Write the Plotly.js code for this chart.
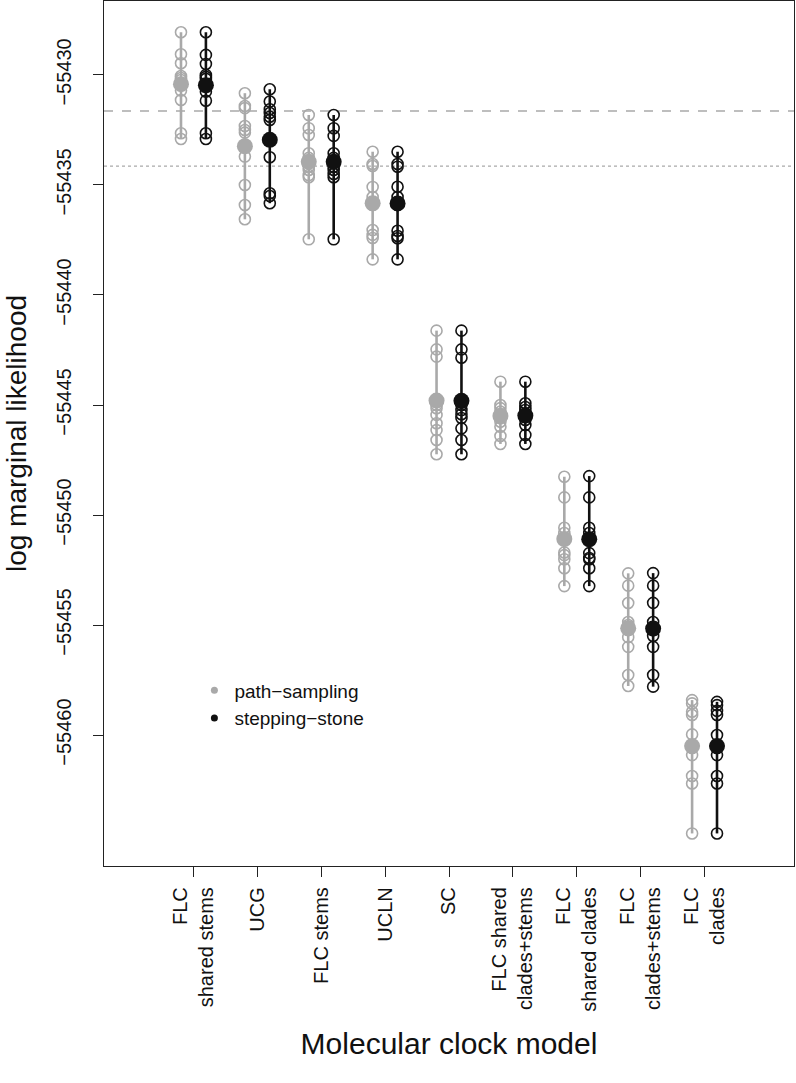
<!DOCTYPE html>
<html>
<head>
<meta charset="utf-8">
<script src="https://cdn.plot.ly/plotly-3.0.1.min.js"></script>
<style>html,body{margin:0;padding:0;background:#fff;}#chart{width:796px;height:1083px;}</style>
</head>
<body>
<div id="chart"></div>
<script>
// ---- data ----
const categories = ["FLC<br>shared stems", "UCG", "FLC stems", "UCLN", "SC",
  "FLC shared<br>clades+stems", "FLC<br>shared clades", "FLC<br>clades+stems", "FLC<br>clades"];

// path-sampling replicate estimates per model
const psReps = [
  [-55428.06, -55429.06, -55429.47, -55430.05, -55430.14, -55430.23, -55430.71, -55431.14, -55432.65, -55432.91],
  [-55430.83, -55431.41, -55431.51, -55432.32, -55432.50, -55432.62, -55433.71, -55435.00, -55435.91, -55436.56],
  [-55431.82, -55432.42, -55432.73, -55433.56, -55433.77, -55434.17, -55434.32, -55434.55, -55434.65, -55437.47],
  [-55433.49, -55434.05, -55434.14, -55435.09, -55435.55, -55435.91, -55437.05, -55437.27, -55437.41, -55438.38],
  [-55441.62, -55442.47, -55442.80, -55445.00, -55445.15, -55445.45, -55445.83, -55446.14, -55446.59, -55447.24],
  [-55443.94, -55445.00, -55445.14, -55445.30, -55445.41, -55445.60, -55445.76, -55445.99, -55446.41, -55446.77],
  [-55448.26, -55449.20, -55450.58, -55450.82, -55451.14, -55451.70, -55451.82, -55452.01, -55452.42, -55453.23],
  [-55452.65, -55453.21, -55454.00, -55454.86, -55455.00, -55455.23, -55455.55, -55455.99, -55457.27, -55457.77],
  [-55458.41, -55458.56, -55458.94, -55459.09, -55459.97, -55460.59, -55460.91, -55461.86, -55462.20, -55464.47]
];
// stepping-stone replicate estimates per model
const ssReps = [
  [-55428.06, -55429.09, -55429.50, -55430.00, -55430.09, -55430.18, -55430.76, -55431.17, -55432.65, -55432.91],
  [-55430.65, -55431.21, -55431.56, -55431.73, -55431.90, -55432.05, -55433.74, -55435.38, -55435.50, -55435.83],
  [-55431.82, -55432.42, -55432.77, -55433.56, -55433.77, -55434.17, -55434.32, -55434.50, -55434.65, -55437.47],
  [-55433.49, -55434.05, -55434.17, -55435.08, -55435.55, -55435.91, -55437.08, -55437.32, -55437.42, -55438.38],
  [-55441.62, -55442.47, -55442.85, -55445.00, -55445.23, -55445.42, -55445.59, -55446.06, -55446.59, -55447.24],
  [-55443.94, -55444.92, -55445.09, -55445.23, -55445.38, -55445.50, -55445.68, -55445.91, -55446.36, -55446.77],
  [-55448.23, -55449.20, -55450.58, -55450.82, -55451.14, -55451.73, -55451.95, -55452.01, -55452.42, -55453.23],
  [-55452.64, -55453.21, -55453.99, -55454.86, -55455.09, -55455.23, -55455.50, -55455.99, -55457.27, -55457.80],
  [-55458.49, -55458.64, -55458.90, -55459.09, -55460.00, -55460.59, -55460.91, -55461.86, -55462.20, -55464.47]
];
// mean estimates (filled dots)
const psMean = [-55430.42, -55433.24, -55433.95, -55435.83, -55444.80, -55445.50, -55451.09, -55455.15, -55460.50];
const ssMean = [-55430.47, -55432.95, -55433.95, -55435.84, -55444.81, -55445.48, -55451.10, -55455.16, -55460.50];

// reference lines
const refDashed = -55431.64;
const refDotted = -55434.14;

const yTicks = [-55430, -55435, -55440, -55445, -55450, -55455, -55460];
const seriesNames = ["path\u2212sampling", "stepping\u2212stone"];

// ---- styling ----
const GREY = "#a9a9a9";
const BLACK = "#111111";
const FONT = "Liberation Sans, Arial, Helvetica, sans-serif";
const OFFSET = 0.195;

function buildTraces(reps, means, dx, color) {
  const lx = [], ly = [], px = [], py = [];
  reps.forEach((vals, i) => {
    const x = i + 1 + dx;
    lx.push(x, x, null);
    ly.push(Math.min(...vals), Math.max(...vals), null);
    vals.forEach(v => { px.push(x); py.push(v); });
  });
  return [
    {type: "scatter", mode: "lines", x: lx, y: ly, showlegend: false, hoverinfo: "skip",
     line: {color: color, width: 2.6}},
    {type: "scatter", mode: "markers", x: px, y: py, showlegend: false,
     marker: {symbol: "circle-open", size: 11, color: color, line: {color: color, width: 1.6}}},
    {type: "scatter", mode: "markers", x: means.map((_, i) => i + 1 + dx), y: means, showlegend: false,
     marker: {symbol: "circle", size: 16, color: color}}
  ];
}

const traces = [
  ...buildTraces(psReps, psMean, -OFFSET, GREY),
  ...buildTraces(ssReps, ssMean, OFFSET, BLACK),
  {type: "scatter", mode: "markers", x: [null], y: [null], name: seriesNames[0],
   marker: {symbol: "circle", size: 7, color: GREY}},
  {type: "scatter", mode: "markers", x: [null], y: [null], name: seriesNames[1],
   marker: {symbol: "circle", size: 7, color: BLACK}}
];

const layout = {
  width: 796, height: 1083,
  margin: {l: 104, r: 2, t: 1, b: 217, pad: 0},
  paper_bgcolor: "#ffffff", plot_bgcolor: "#ffffff",
  font: {family: FONT, color: "#111111"},
  showlegend: true,
  legend: {x: 0.131, y: 0.225, xanchor: "left", yanchor: "top", bgcolor: "rgba(0,0,0,0)",
           font: {size: 19, family: FONT, color: "#111111"}, tracegroupgap: 0},
  xaxis: {
    range: [-0.4, 10.4], tickmode: "array", tickvals: categories.map((_, i) => i + 1), ticktext: categories,
    tickangle: -90, ticks: "outside", ticklen: 10, tickwidth: 1, tickcolor: "#222",
    showline: true, mirror: true, linecolor: "#222", linewidth: 1.2,
    showgrid: false, zeroline: false, ticklabelstandoff: 2,
    tickfont: {size: 20, family: FONT, color: "#111111"},
    title: {text: "Molecular clock model", font: {size: 30, family: FONT, color: "#111111"}, standoff: 22}
  },
  yaxis: {
    range: [-55465.95, -55426.64], tickmode: "array", tickvals: yTicks,
    ticktext: yTicks.map(v => String(v).replace("-", "\u2212")),
    tickangle: -90, ticks: "outside", ticklen: 10, tickwidth: 1, tickcolor: "#222",
    showline: true, mirror: true, linecolor: "#222", linewidth: 1.2,
    showgrid: false, zeroline: false, ticklabelstandoff: 14,
    tickfont: {size: 20, family: FONT, color: "#111111"},
    title: {text: "log marginal likelihood", font: {size: 28, family: FONT, color: "#111111"}, standoff: 18}
  },
  shapes: [
    {type: "line", xref: "paper", x0: 0, x1: 1, yref: "y", y0: refDashed, y1: refDashed,
     line: {color: GREY, width: 1.5, dash: "dash"}, layer: "below"},
    {type: "line", xref: "paper", x0: 0, x1: 1, yref: "y", y0: refDotted, y1: refDotted,
     line: {color: GREY, width: 1.3, dash: "dot"}, layer: "below"}
  ]
};

Plotly.newPlot("chart", traces, layout, {displayModeBar: false, staticPlot: true});
</script>
</body>
</html>
